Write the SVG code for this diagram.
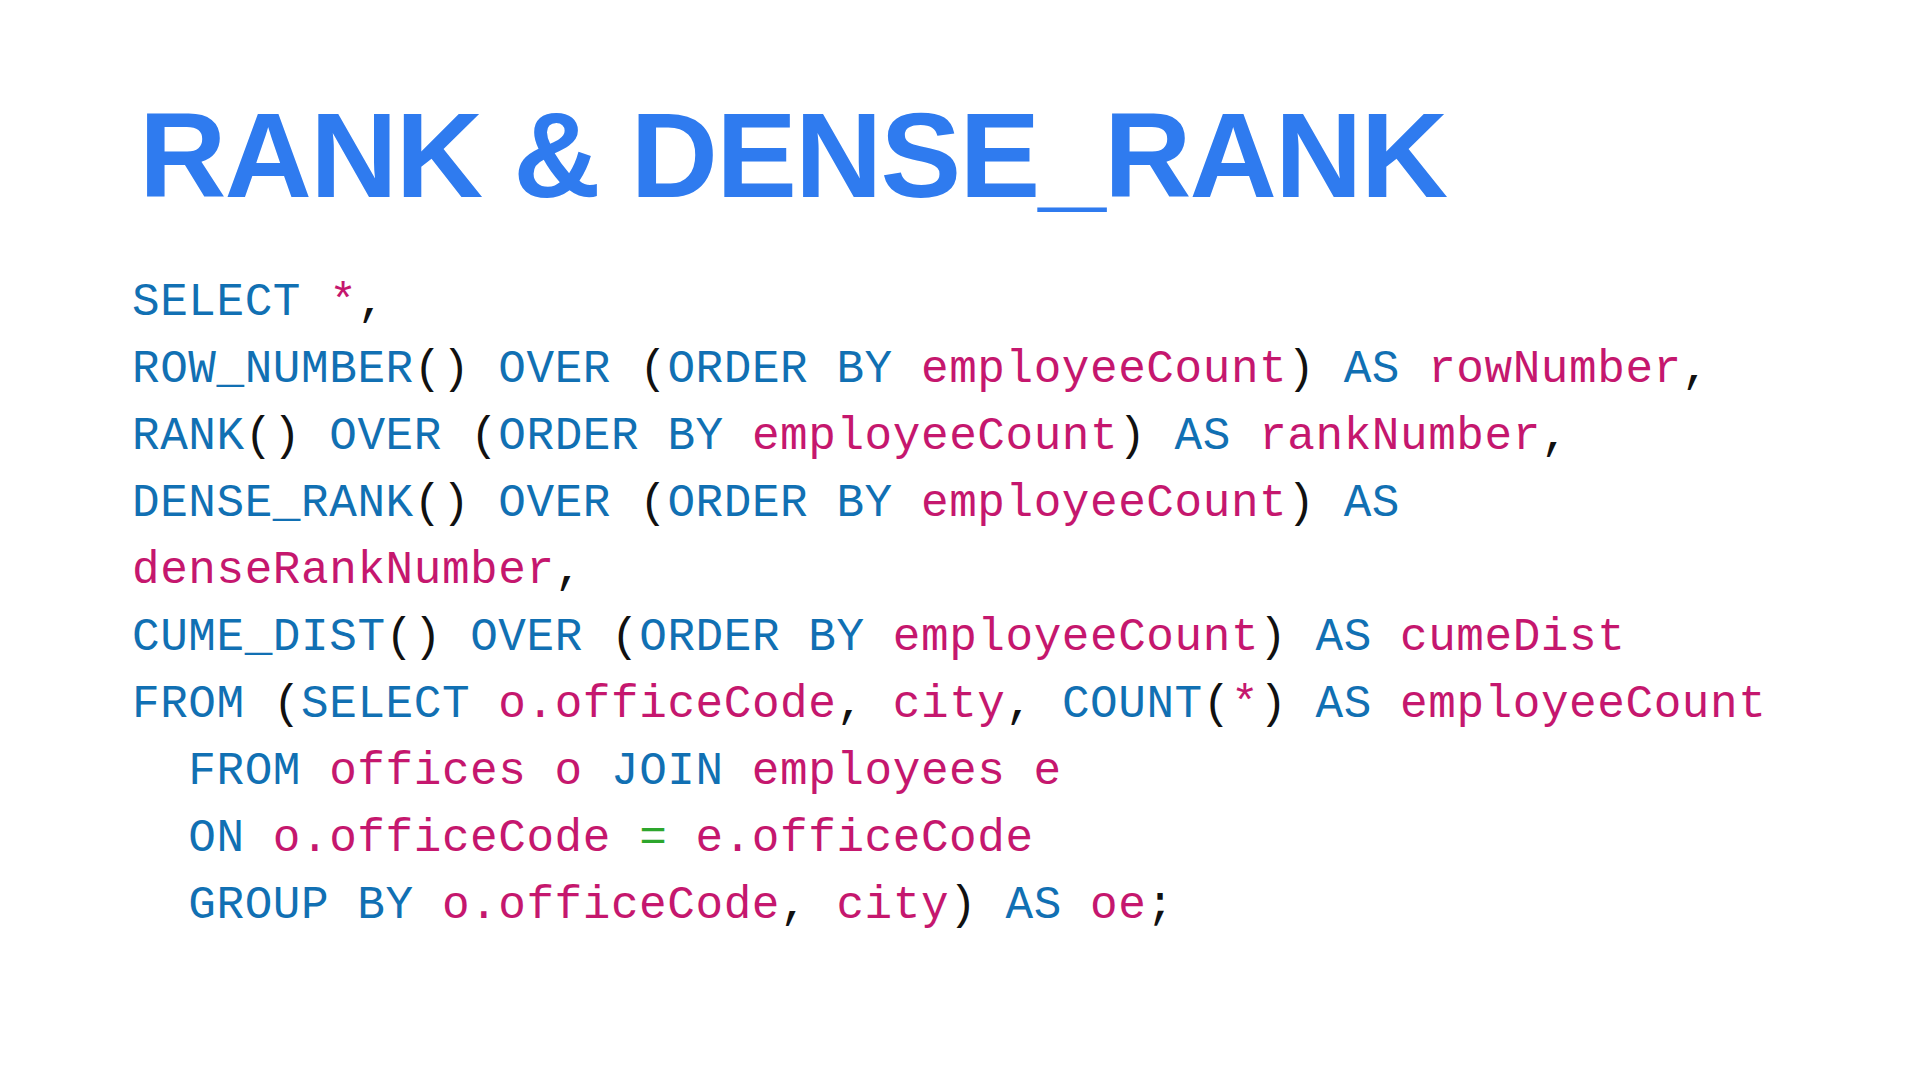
<svg xmlns="http://www.w3.org/2000/svg" width="1920" height="1080" viewBox="0 0 1920 1080">
<style>
.title{font-family:"Liberation Sans","Helvetica",Arial,sans-serif;font-weight:bold;font-size:121px;fill:#2F7BEF;letter-spacing:-1.8px}
.code{font-family:"Liberation Mono","Courier New",monospace;font-size:46px;letter-spacing:0.57px;fill:#111111;white-space:pre}
.k{fill:#1170B3}
.v{fill:#C5176E}
.p{fill:#111111}
.g{fill:#2DA62D}
</style>
<rect x="0" y="0" width="1920" height="1080" fill="#FFFFFF"/>
<g id="title">
<text class="title" x="139" y="197">RANK &amp; DENSE_RANK</text>
</g>
<g id="code" class="code">
<text x="132" y="314.5"><tspan class="k">SELECT</tspan> <tspan class="v">*</tspan><tspan class="p">,</tspan></text>
<text x="132" y="381.5"><tspan class="k">ROW_NUMBER</tspan><tspan class="p">()</tspan> <tspan class="k">OVER</tspan> <tspan class="p">(</tspan><tspan class="k">ORDER BY</tspan> <tspan class="v">employeeCount</tspan><tspan class="p">)</tspan> <tspan class="k">AS</tspan> <tspan class="v">rowNumber</tspan><tspan class="p">,</tspan></text>
<text x="132" y="448.5"><tspan class="k">RANK</tspan><tspan class="p">()</tspan> <tspan class="k">OVER</tspan> <tspan class="p">(</tspan><tspan class="k">ORDER BY</tspan> <tspan class="v">employeeCount</tspan><tspan class="p">)</tspan> <tspan class="k">AS</tspan> <tspan class="v">rankNumber</tspan><tspan class="p">,</tspan></text>
<text x="132" y="515.5"><tspan class="k">DENSE_RANK</tspan><tspan class="p">()</tspan> <tspan class="k">OVER</tspan> <tspan class="p">(</tspan><tspan class="k">ORDER BY</tspan> <tspan class="v">employeeCount</tspan><tspan class="p">)</tspan> <tspan class="k">AS</tspan></text>
<text x="132" y="582.5"><tspan class="v">denseRankNumber</tspan><tspan class="p">,</tspan></text>
<text x="132" y="649.5"><tspan class="k">CUME_DIST</tspan><tspan class="p">()</tspan> <tspan class="k">OVER</tspan> <tspan class="p">(</tspan><tspan class="k">ORDER BY</tspan> <tspan class="v">employeeCount</tspan><tspan class="p">)</tspan> <tspan class="k">AS</tspan> <tspan class="v">cumeDist</tspan></text>
<text x="132" y="716.5"><tspan class="k">FROM</tspan> <tspan class="p">(</tspan><tspan class="k">SELECT</tspan> <tspan class="v">o.officeCode</tspan><tspan class="p">,</tspan> <tspan class="v">city</tspan><tspan class="p">,</tspan> <tspan class="k">COUNT</tspan><tspan class="p">(</tspan><tspan class="v">*</tspan><tspan class="p">)</tspan> <tspan class="k">AS</tspan> <tspan class="v">employeeCount</tspan></text>
<text x="188.3" y="783.5"><tspan class="k">FROM</tspan> <tspan class="v">offices o</tspan> <tspan class="k">JOIN</tspan> <tspan class="v">employees e</tspan></text>
<text x="188.3" y="850.5"><tspan class="k">ON</tspan> <tspan class="v">o.officeCode</tspan> <tspan class="g">=</tspan> <tspan class="v">e.officeCode</tspan></text>
<text x="188.3" y="917.5"><tspan class="k">GROUP BY</tspan> <tspan class="v">o.officeCode</tspan><tspan class="p">,</tspan> <tspan class="v">city</tspan><tspan class="p">)</tspan> <tspan class="k">AS</tspan> <tspan class="v">oe</tspan><tspan class="p">;</tspan></text>
</g>
</svg>
